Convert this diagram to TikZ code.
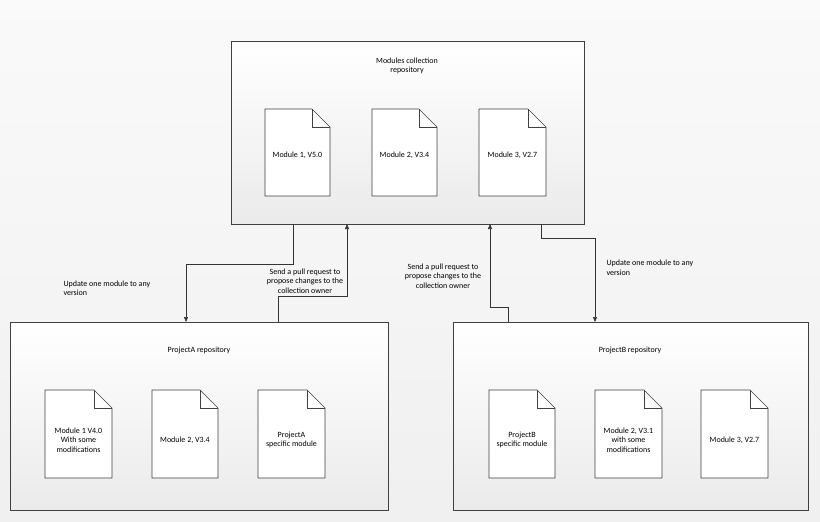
\documentclass[tikz,border=0pt]{standalone}
\usepackage{fontspec}
\setmainfont{Carlito}
\usetikzlibrary{arrows.meta}
\begin{document}
\begin{tikzpicture}[x=1pt,y=-1pt,
  repo/.style={draw=black!75,line width=0.6pt,top color=white,bottom color=black!8,minimum width=#1,anchor=north west},
  lbl/.style={font=\fontsize{8}{9.5}\selectfont,align=center},
  conn/.style={draw=black!80,line width=0.6pt,-{Triangle[length=5pt,width=4pt]}}]
\useasboundingbox[top color=black!2,bottom color=black!6] (0,0) rectangle (820,522);
\newcommand{\docshape}[5]{% name, x, y, w, h
  \coordinate (#1) at (#2+#4/2,#3+#5/2);
  \draw[black!75,line width=0.6pt,fill=white] (#2,#3) -- (#2+#4-18,#3) -- (#2+#4,#3+18) -- (#2+#4,#3+#5) -- (#2,#3+#5) -- cycle;
  \draw[black!75,line width=0.6pt] (#2+#4-18,#3) -- (#2+#4-18,#3+18) -- (#2+#4,#3+18);}
% boxes
\draw[repo=1pt] (231,41) rectangle (584,224);
\draw[repo=1pt] (10,322) rectangle (388,510);
\draw[repo=1pt] (453,322) rectangle (808,510);
\coordinate (top) at (407,132);
\node[lbl] (tt) at (407,66) {Modules collection\\repository};
\node[lbl] (lt) at (199,350) {ProjectA repository};
\node[lbl] (rt) at (630,350) {ProjectB repository};
% docs
\docshape{d1}{265}{109}{65}{87}
\docshape{d2}{372}{109}{65}{87}
\docshape{d3}{479}{109}{67}{87}
\docshape{a1}{45}{390}{67}{88}
\docshape{a2}{152}{390}{66}{88}
\docshape{a3}{258}{390}{67}{88}
\docshape{b1}{489}{390}{66}{88}
\docshape{b2}{595}{390}{67}{88}
\docshape{b3}{701}{390}{67}{88}
\node[lbl] at (297.5,155) {Module 1, V5.0};
\node[lbl] at (404.5,155) {Module 2, V3.4};
\node[lbl] at (512.5,155) {Module 3, V2.7};
\node[lbl] at (78.5,440) {Module 1 V4.0\\With some\\modifications};
\node[lbl] at (185,440) {Module 2, V3.4};
\node[lbl] at (291.5,440) {ProjectA\\specific module};
\node[lbl] at (522,440) {ProjectB\\specific module};
\node[lbl] at (628.5,440) {Module 2, V3.1\\with some\\modifications};
\node[lbl] at (734.5,440) {Module 3, V2.7};
% connectors
\coordinate (s1) at (293,224); \coordinate (e1) at (186,322);
\draw[conn] (s1) -- (293,264) -- (186,264) -- (e1);
\coordinate (s2) at (278,322); \coordinate (e2) at (347,224);
\draw[conn] (s2) -- (278,296) -- (347,296) -- (e2);
\coordinate (s3) at (508,322); \coordinate (e3) at (490,224);
\draw[conn] (s3) -- (508,307) -- (490,307) -- (e3);
\coordinate (s4) at (541,224); \coordinate (e4) at (595,322);
\draw[conn] (s4) -- (541,238) -- (595,238) -- (e4);
\node[lbl,align=left,anchor=west] at (60,288) {Update one module to any\\version};
\node[lbl] at (305,281) {Send a pull request to\\propose changes to the\\collection owner};
\node[lbl] at (443,276) {Send a pull request to\\propose changes to the\\collection owner};
\node[lbl,align=left,anchor=west] at (603,268) {Update one module to any\\version};
\end{tikzpicture}
\end{document}
